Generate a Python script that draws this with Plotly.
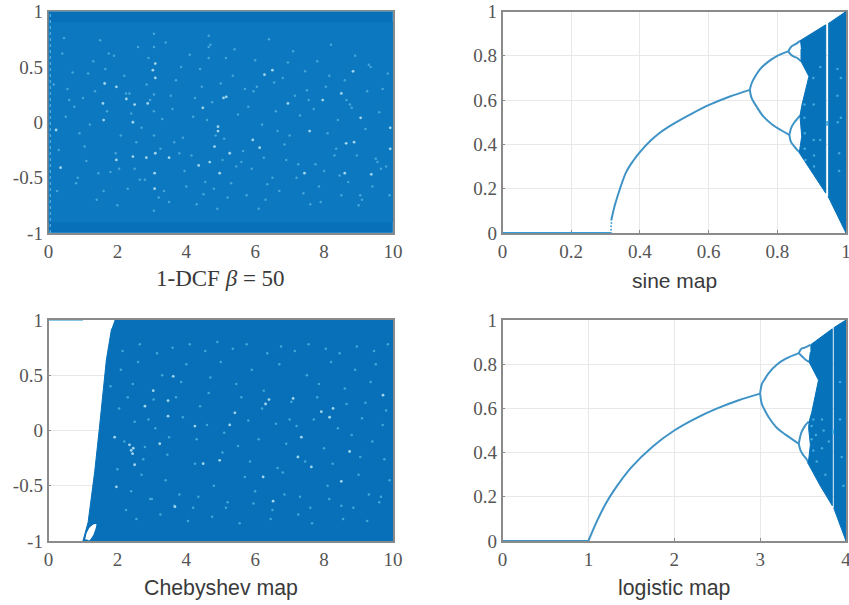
import plotly.graph_objects as go

W, H = 849, 605
BLUE = "#0672ba"
CURVE = "#3f93c6"

y_ticks_big = [-1, -0.5, 0, 0.5, 1]
y_labels_big = ["-1", "-0.5", "0", "0.5", "1"]
x_ticks_ten = [0, 2, 4, 6, 8, 10]
x_labels_ten = ["0", "2", "4", "6", "8", "10"]
unit_ticks = [0, 0.2, 0.4, 0.6, 0.8, 1]
unit_labels = ["0", "0.2", "0.4", "0.6", "0.8", "1"]
logistic_ticks = [0, 1, 2, 3, 4]
logistic_labels = ["0", "1", "2", "3", "4"]

# 1-DCF panel
dcf_box_x = [0, 10, 10, 0]
dcf_box_y = [-1, -1, 1, 1]
dcf_mid_y = [-0.9, -0.9, 0.9, 0.9]
dcf_bright_x = [3.1, 3.03, 3.1, 1.97, 1.63, 1.58, 2.5, 2.26, 1.6, 2.45, 2.88, 5.16, 5.08, 4.48, 4.92, 4.92, 6.27, 6.5, 6.95, 7.58, 8.87, 9.06, 9.92, 9.92, 0.35, 0.22, 3.5, 3.1, 3.08, 3.08, 4.68, 4.36, 4.97, 7.43, 8.6, 9.37, 4.82, 5.26, 5.93, 6.13, 8.64, 8.84, 8.5, 7.96, 1.97, 2.45, 2.84]
dcf_bright_y = [0.53, 0.47, 0.4, 0.32, 0.35, 0.17, 0.16, 0.21, 0.02, 0, 0.17, 0.23, 0.22, 0.13, -0.04, -0.08, 0.43, 0.47, 0.17, -0.08, -0.18, 0.04, -0.24, -0.05, -0.41, -0.07, -0.32, -0.28, -0.46, -0.6, -0.36, -0.39, -0.46, -0.46, -0.46, -0.47, -0.22, -0.28, -0.16, -0.23, -0.19, 0.46, 0.26, 0.2, -0.34, -0.31, -0.32]
dcf_faint_x = [0.4, 0.7, 1.0, 1.3, 1.5, 1.9, 2.2, 2.6, 2.9, 3.4, 3.7, 4.1, 4.4, 4.7, 5.0, 5.4, 5.7, 6.0, 6.4, 6.8, 7.1, 7.5, 7.8, 8.2, 8.6, 8.9, 9.3, 9.7, 0.5, 0.9, 1.2, 1.7, 2.1, 2.4, 2.7, 3.3, 3.6, 3.9, 4.2, 4.6, 5.1, 5.5, 5.8, 6.2, 6.6, 7.0, 7.3, 7.7, 8.1, 8.4, 8.8, 9.2, 9.6, 0.3, 0.8, 1.4, 1.8, 2.3, 2.8, 3.5, 4.0, 4.5, 4.9, 5.3, 5.9, 6.3, 6.7, 7.2, 7.6, 8.0, 8.5, 9.0, 9.4, 9.8, 0.6, 1.1, 1.6, 2.0, 2.5, 3.2, 3.8, 4.3, 4.8, 5.2, 5.6, 6.1, 6.5, 6.9, 7.4, 7.9, 8.3, 8.7, 9.1, 9.5, 9.9, 3.06, 3.06, 3.06, 3.06, 3.06, 3.06, 4.65, 4.65, 4.65, 0.15, 0.45, 0.75, 1.05, 1.35, 1.65, 1.95, 2.25, 2.55, 2.85, 3.25, 3.55, 3.85, 4.15, 4.45, 4.75, 5.05, 5.35, 5.65, 5.95, 6.25, 6.55, 6.85, 7.15, 7.45, 7.75, 8.05, 8.35, 8.65, 8.95, 9.25, 9.55, 9.85, 0.25, 0.55, 0.85, 1.15, 1.45, 1.75, 2.05, 2.35, 2.65, 2.95, 3.35, 3.65, 3.95, 4.25, 4.55, 4.85, 5.15, 5.45, 5.75, 6.05, 6.35, 6.65, 6.95, 7.25, 7.55, 7.85, 8.15, 8.45, 8.75, 9.05, 9.35, 9.65]
dcf_faint_y = [0.62, 0.45, 0.22, 0.55, 0.74, 0.6, 0.42, 0.68, 0.58, 0.72, 0.38, 0.61, 0.48, 0.7, 0.35, 0.66, 0.3, 0.56, 0.75, 0.4, 0.64, 0.29, 0.55, 0.7, 0.38, 0.6, 0.52, 0.3, 0.05, -0.1, -0.02, 0.1, -0.12, 0.08, -0.05, 0.03, 0.12, -0.14, 0.05, 0.02, -0.15, 0.07, 0.14, -0.02, 0.1, -0.12, 0.06, 0.12, -0.1, 0.02, 0.13, -0.06, 0.09, -0.25, -0.55, -0.7, -0.45, -0.6, -0.52, -0.72, -0.58, -0.65, -0.78, -0.55, -0.42, -0.7, -0.62, -0.5, -0.74, -0.44, -0.66, -0.75, -0.58, -0.4, 0.2, -0.35, -0.62, -0.75, -0.42, -0.68, -0.28, -0.74, -0.6, -0.68, -0.36, -0.78, -0.5, -0.34, -0.64, -0.72, -0.3, -0.54, -0.7, -0.33, -0.66, 0.8, 0.68, 0.25, 0.1, -0.12, -0.8, 0.78, 0.68, 0.58, 0.34, 0.76, 0.14, -0.22, 0.28, 0.48, -0.28, 0.26, -0.18, 0.34, -0.24, 0.24, 0.5, -0.3, 0.32, 0.18, -0.34, 0.42, -0.26, 0.28, -0.32, 0.36, -0.2, 0.24, 0.46, -0.38, 0.32, -0.24, 0.2, -0.3, 0.28, -0.36, 0.44, -0.62, 0.3, -0.5, 0.44, -0.46, 0.62, -0.42, 0.26, -0.52, 0.2, -0.62, -0.18, -0.44, 0.22, -0.54, -0.12, 0.58, -0.4, -0.66, 0.32, -0.56, -0.08, 0.54, -0.38, 0.2, -0.58, 0.42, -0.48, 0.16, -0.66, 0.5, -0.42]
dcf_edge_x = [0.05, 0.05]
dcf_edge_y = [-1, 1]

# sine map panel
sine_flat_x = [0, 0.315]
sine_flat_y = [0, 0]
sine_rise_x = [0.317, 0.327, 0.342, 0.36, 0.38, 0.4, 0.43, 0.46, 0.5, 0.55, 0.6, 0.66, 0.72]
sine_rise_y = [0.06, 0.125, 0.2, 0.275, 0.325, 0.365, 0.415, 0.455, 0.495, 0.538, 0.577, 0.615, 0.646]
sine_sparse_x = [0.316, 0.316, 0.316, 0.317, 0.317]
sine_sparse_y = [0.0, 0.015, 0.03, 0.045, 0.06]
sine_up_x = [0.72, 0.725, 0.735, 0.75, 0.775, 0.8, 0.832]
sine_up_y = [0.646, 0.675, 0.705, 0.74, 0.775, 0.8, 0.82]
sine_low_x = [0.72, 0.725, 0.74, 0.76, 0.785, 0.81, 0.835]
sine_low_y = [0.646, 0.61, 0.57, 0.525, 0.49, 0.465, 0.443]
sine_b1_x = [0.832, 0.84, 0.85, 0.857, 0.866]
sine_b1_y = [0.82, 0.84, 0.85, 0.856, 0.868]
sine_b2_x = [0.832, 0.84, 0.85, 0.858, 0.869]
sine_b2_y = [0.82, 0.805, 0.795, 0.79, 0.775]
sine_b3_x = [0.835, 0.842, 0.85, 0.858, 0.866]
sine_b3_y = [0.443, 0.48, 0.5, 0.515, 0.53]
sine_b4_x = [0.835, 0.84, 0.85, 0.858, 0.866]
sine_b4_y = [0.443, 0.41, 0.39, 0.375, 0.365]
sine_left_x = [0.866, 0.941, 0.941, 0.9, 0.864, 0.871, 0.866, 0.872, 0.892, 0.869, 0.869]
sine_left_y = [0.868, 0.94, 0.18, 0.28, 0.362, 0.436, 0.53, 0.58, 0.707, 0.775, 0.83]
sine_right_x = [0.948, 1.0, 1.0, 0.948]
sine_right_y = [0.945, 1.0, 0.0, 0.165]
sine_spots_x = [0.879, 0.879, 0.88, 0.88, 0.882, 0.905, 0.906, 0.906, 0.907, 0.907, 0.925, 0.925, 0.975, 0.975, 0.976, 0.98, 0.98, 0.985, 0.985, 0.945, 0.945]
sine_spots_y = [0.58, 0.52, 0.45, 0.38, 0.33, 0.7, 0.58, 0.42, 0.35, 0.3, 0.75, 0.42, 0.74, 0.62, 0.5, 0.36, 0.28, 0.7, 0.52, 0.5, 0.49]

# Chebyshev panel
cheb_top_x = [0, 1.0]
cheb_top_y = [1, 1]
cheb_fill_x = [1.92, 10, 10, 1.0, 1.15, 1.34, 1.47, 1.59, 1.68, 1.83]
cheb_fill_y = [1, 1, -1, -1, -0.83, -0.375, 0, 0.38, 0.64, 0.92]
cheb_hole_x = [1.08, 1.12, 1.2, 1.3, 1.38, 1.35, 1.28, 1.18]
cheb_hole_y = [-0.985, -0.93, -0.88, -0.855, -0.85, -0.89, -0.95, -0.994]
cheb_bright_x = [3.62, 3.04, 3.47, 3.47, 4.25, 2.46, 2.44, 2.5, 1.97, 1.92, 2.8, 4.49, 3.67, 7.24, 7.63, 7.92, 8.74, 8.5, 9.71, 7.1, 5.41, 5.26, 7.34, 6.52, 6.23, 4.97, 3.23, 8.26, 8.16, 6.4, 6.3, 2.35, 2.4]
cheb_bright_y = [0.49, 0.36, 0.27, 0.13, 0.04, -0.16, -0.21, -0.31, -0.51, -0.06, 0.22, -0.3, -0.69, -0.24, -0.33, 0.17, -0.19, -0.46, 0.32, 0.29, 0.16, 0.05, -0.06, -0.64, -0.42, -0.27, -0.12, 0.2, 0.12, 0.28, 0.24, -0.13, -0.18]
cheb_faint_x = [2.1, 2.3, 2.6, 2.9, 3.3, 3.7, 4.0, 4.4, 4.7, 5.0, 5.6, 5.9, 6.2, 6.7, 7.0, 7.5, 7.8, 8.2, 8.6, 8.9, 9.2, 9.5, 9.8, 2.2, 2.5, 2.8, 3.1, 3.5, 3.9, 4.3, 4.6, 5.1, 5.5, 5.8, 6.1, 6.6, 6.9, 7.2, 7.7, 8.0, 8.4, 8.8, 9.1, 9.4, 9.7, 2.0, 2.4, 2.7, 3.0, 3.4, 3.8, 4.2, 4.8, 5.2, 5.7, 6.0, 6.5, 6.8, 7.3, 7.6, 8.1, 8.5, 9.0, 9.3, 9.6, 9.9, 1.8, 2.15, 2.65, 3.15, 3.6, 4.1, 4.55, 4.9, 5.35, 5.75, 6.35, 6.75, 7.15, 7.55, 8.05, 8.45, 8.95, 9.45, 9.85, 2.05, 2.45, 2.75, 3.05, 3.45, 3.85, 4.25, 4.65, 5.05, 5.45, 5.85, 6.25, 6.65, 7.05, 7.45, 7.85, 8.25, 8.65, 9.05, 9.35, 9.75, 2.25, 2.55, 2.95, 3.25, 3.65, 4.05, 4.35, 4.75, 5.15, 5.55, 5.95, 6.45, 6.85, 7.25, 7.65, 8.15, 8.55, 8.85, 9.25, 9.65]
cheb_faint_y = [0.55, 0.3, 0.62, 0.1, 0.5, 0.3, 0.6, 0.22, 0.48, 0.62, 0.3, 0.55, 0.2, 0.6, 0.1, 0.5, 0.3, 0.62, 0.38, 0.55, 0.25, 0.6, 0.18, -0.1, 0.08, -0.15, 0.02, -0.06, 0.12, -0.08, 0.05, -0.02, -0.14, 0.09, -0.08, 0.06, -0.12, 0.04, 0.1, -0.16, 0.02, -0.04, 0.11, -0.1, 0.05, -0.35, -0.55, -0.4, -0.62, -0.45, -0.58, -0.7, -0.5, -0.65, -0.42, -0.55, -0.72, -0.38, -0.6, -0.7, -0.5, -0.68, -0.4, -0.58, -0.65, -0.45, 0.4, 0.72, 0.78, 0.7, 0.75, 0.78, 0.72, 0.8, 0.74, 0.78, 0.7, 0.76, 0.72, 0.78, 0.74, 0.7, 0.76, 0.72, 0.78, 0.2, 0.42, -0.26, 0.28, -0.22, 0.44, -0.3, 0.34, -0.2, 0.42, -0.28, 0.36, -0.34, 0.26, -0.28, 0.42, -0.3, 0.24, -0.24, 0.44, -0.26, -0.72, -0.8, -0.62, -0.76, -0.68, -0.82, -0.6, -0.78, -0.7, -0.84, -0.66, -0.8, -0.58, -0.76, -0.84, -0.62, -0.8, -0.7, -0.82, -0.6]

# logistic map panel
logi_flat_x = [0, 1]
logi_flat_y = [0, 0]
logi_rise_x = [1, 1.1, 1.2, 1.3, 1.5, 1.75, 2, 2.25, 2.5, 2.75, 3]
logi_rise_y = [0, 0.09, 0.167, 0.23, 0.333, 0.428, 0.5, 0.555, 0.6, 0.637, 0.667]
logi_up_x = [3, 3.02, 3.05, 3.1, 3.2, 3.3, 3.45]
logi_up_y = [0.667, 0.71, 0.73, 0.76, 0.8, 0.825, 0.85]
logi_low_x = [3, 3.02, 3.05, 3.1, 3.2, 3.3, 3.45]
logi_low_y = [0.667, 0.62, 0.595, 0.56, 0.51, 0.48, 0.44]
logi_b1_x = [3.45, 3.48, 3.52, 3.585]
logi_b1_y = [0.85, 0.87, 0.875, 0.887]
logi_b2_x = [3.45, 3.49, 3.53, 3.57]
logi_b2_y = [0.85, 0.835, 0.82, 0.81]
logi_b3_x = [3.45, 3.48, 3.52, 3.565]
logi_b3_y = [0.44, 0.49, 0.52, 0.54]
logi_b4_x = [3.45, 3.47, 3.5, 3.547, 3.565]
logi_b4_y = [0.44, 0.41, 0.39, 0.366, 0.35]
logi_left_x = [3.585, 3.84, 3.84, 3.7, 3.56, 3.565, 3.585, 3.565, 3.57, 3.6, 3.68, 3.57, 3.585]
logi_left_y = [0.887, 0.96, 0.16, 0.25, 0.35, 0.375, 0.435, 0.51, 0.54, 0.58, 0.728, 0.81, 0.855]
logi_right_x = [3.857, 4, 4, 3.857]
logi_right_y = [0.965, 1, 0, 0.15]
logi_spots_x = [3.6, 3.6, 3.62, 3.62, 3.65, 3.66, 3.72, 3.72, 3.74, 3.76, 3.8, 3.93, 3.93, 3.95, 3.97, 3.85, 3.85]
logi_spots_y = [0.52, 0.46, 0.55, 0.41, 0.48, 0.36, 0.55, 0.42, 0.5, 0.3, 0.45, 0.72, 0.55, 0.38, 0.25, 0.5, 0.49]

panel_boxes = {
    "a": (48.5, 393, 11.5, 233),
    "b": (502.5, 846, 11.5, 233),
    "c": (48.5, 393, 320, 541),
    "d": (502.5, 846, 320, 541),
}
fig = go.Figure()


def poly(ax, xs, ys, color, edge=None):
    fig.add_trace(go.Scatter(x=xs, y=ys, xaxis="x" + ax, yaxis="y" + ax, mode="lines", fill="toself",
                             fillcolor=color, line=dict(color=edge or color, width=1), hoverinfo="skip"))


def curve(ax, xs, ys, color=CURVE, width=2):
    fig.add_trace(go.Scatter(x=xs, y=ys, xaxis="x" + ax, yaxis="y" + ax, mode="lines",
                             line=dict(color=color, width=width, shape="spline"), hoverinfo="skip"))


def dots(ax, xs, ys, color, size=2.5):
    fig.add_trace(go.Scatter(x=xs, y=ys, xaxis="x" + ax, yaxis="y" + ax, mode="markers",
                             marker=dict(color=color, size=size, line=dict(width=0)), hoverinfo="skip"))


poly("", dcf_box_x, dcf_box_y, "#0870b8", "#3f9ed6")
poly("", dcf_box_x, dcf_mid_y, "#0b78bf")
dots("", dcf_faint_x, dcf_faint_y, "#45a6da", 2.5)
dots("", dcf_bright_x, dcf_bright_y, "#9ed4ec", 2.8)
fig.add_trace(go.Scatter(x=dcf_edge_x, y=dcf_edge_y, mode="lines", hoverinfo="skip",
                         line=dict(color="#6cbde6", width=1, dash="dot")))

curve("2", sine_flat_x, sine_flat_y, "#2f9fdc", 2)
dots("2", sine_sparse_x, sine_sparse_y, "#4ba0d2", 2)
for xs, ys in [(sine_rise_x, sine_rise_y), (sine_up_x, sine_up_y), (sine_low_x, sine_low_y),
               (sine_b1_x, sine_b1_y), (sine_b2_x, sine_b2_y), (sine_b3_x, sine_b3_y), (sine_b4_x, sine_b4_y)]:
    curve("2", xs, ys)
poly("2", sine_left_x, sine_left_y, BLUE)
poly("2", sine_right_x, sine_right_y, BLUE)
dots("2", sine_spots_x, sine_spots_y, "#45a8dc", 2.5)

poly("3", cheb_fill_x, cheb_fill_y, "#0770b8")
poly("3", cheb_hole_x, cheb_hole_y, "#ffffff")
curve("3", cheb_top_x, cheb_top_y, "#63b5de", 1.5)
dots("3", cheb_faint_x, cheb_faint_y, "#45a6da", 2.5)
dots("3", cheb_bright_x, cheb_bright_y, "#9ed4ec", 2.8)

curve("4", logi_flat_x, logi_flat_y, CURVE, 2)
for xs, ys in [(logi_rise_x, logi_rise_y), (logi_up_x, logi_up_y), (logi_low_x, logi_low_y),
               (logi_b1_x, logi_b1_y), (logi_b2_x, logi_b2_y), (logi_b3_x, logi_b3_y), (logi_b4_x, logi_b4_y)]:
    curve("4", xs, ys)
poly("4", logi_left_x, logi_left_y, BLUE)
poly("4", logi_right_x, logi_right_y, BLUE)
dots("4", logi_spots_x, logi_spots_y, "#45a8dc", 2.5)

SERIF = "Liberation Serif"
SANS = "Liberation Sans"


def axes(key, suffix, xr, xt, xl, yr, yt, yl, title, font, tsize, tdrop):
    x0, x1, y0, y1 = panel_boxes[key]
    common = dict(showline=True, mirror=True, linecolor="#8a8a8a", linewidth=1.5, ticks="inside", ticklen=3,
                  tickcolor="#8a8a8a", showgrid=True, gridcolor="#e8e8e8", gridwidth=1, zeroline=False,
                  automargin=False, ticklabeloverflow="allow",
                  tickfont=dict(family=SERIF, size=19, color="#555555"), layer="below traces", tickmode="array")
    fig.update_layout({
        "xaxis" + suffix: dict(domain=[x0 / W, x1 / W], range=xr, tickvals=xt, ticktext=xl,
                               anchor="y" + suffix, **common),
        "yaxis" + suffix: dict(domain=[1 - y1 / H, 1 - y0 / H], range=yr, tickvals=yt, ticktext=yl,
                               anchor="x" + suffix, **common),
    })
    fig.add_annotation(text=title, xref="paper", yref="paper", x=(x0 + x1) / 2 / W, y=1 - (y1 + tdrop) / H,
                       showarrow=False, xanchor="center", yanchor="middle",
                       font=dict(family=font, size=tsize, color="#3a3a3a"))


axes("a", "", [0, 10], x_ticks_ten, x_labels_ten, [-1, 1], y_ticks_big, y_labels_big, "1-DCF <i>β</i> = 50", SERIF, 23, 45)
axes("b", "2", [0, 1], unit_ticks, unit_labels, [0, 1], unit_ticks, unit_labels, "sine map", SANS, 21, 47)
axes("c", "3", [0, 10], x_ticks_ten, x_labels_ten, [-1, 1], y_ticks_big, y_labels_big, "Chebyshev map", SANS, 21.3, 47)
axes("d", "4", [0, 4], logistic_ticks, logistic_labels, [0, 1], unit_ticks, unit_labels, "logistic map", SANS, 21.3, 47)

fig.update_layout(width=W, height=H, autosize=False, margin=dict(l=0, r=0, t=0, b=0), showlegend=False,
                  paper_bgcolor="white", plot_bgcolor="white")
fig.write_html("out.html", post_script="document.body.style.margin='0';", config={"displayModeBar": False})
